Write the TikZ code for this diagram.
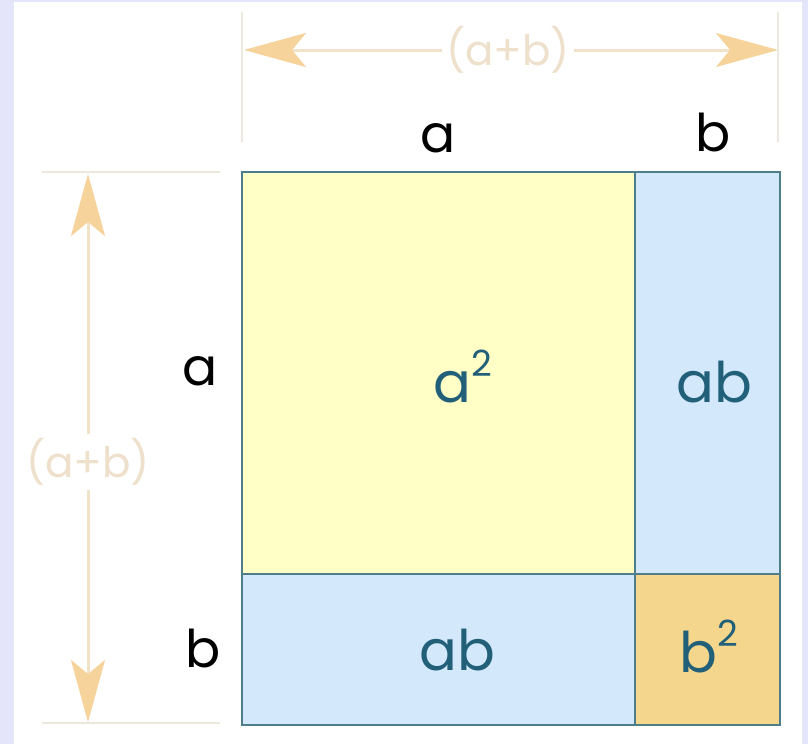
\documentclass[tikz,border=0pt]{standalone}
\usepackage{fontspec}
\setmainfont{Poppins}
\usetikzlibrary{arrows.meta}
\definecolor{lav}{HTML}{E4E4FA}
\definecolor{yel}{HTML}{FFFFC6}
\definecolor{lblue}{HTML}{D3E9FB}
\definecolor{gold}{HTML}{F4D68C}
\definecolor{edge}{HTML}{4E7E8A}
\definecolor{celltxt}{HTML}{22607A}
\definecolor{dimline}{HTML}{F2E2C8}
\definecolor{dimtip}{HTML}{F5D39A}
\definecolor{dimtxt}{HTML}{EEE0CA}
\definecolor{extl}{HTML}{EDE8DE}
\tikzset{
  cellbox/.style={draw=edge, line width=2.4pt},
  celllabel/.style={text=celltxt, font=\fontsize{56}{56}\selectfont, anchor=base, inner sep=0pt},
  sidelabel/.style={text=black, font=\fontsize{52}{52}\selectfont, anchor=base, inner sep=0pt},
  dimlabel/.style={text=dimtxt, font=\fontsize{42}{42}\selectfont, inner sep=4pt},
  extline/.style={draw=extl, line width=1.6pt},
  dimarrow/.style={draw=dimline, line width=3pt, -{Stealth[length=62pt,width=34pt,inset=14pt,color=dimtip]}},
}
\newcommand{\sqr}[1]{#1\raisebox{0.45em}{\fontsize{36}{36}\selectfont 2}}
\begin{document}
\begin{tikzpicture}[x=1pt,y=-1pt]
\useasboundingbox (0,0) rectangle (808,744);
\fill[lav] (0,0) rectangle (808,744);
\fill[white] (14,2) rectangle (802,744);
% cells
\fill[yel] (242,172) rectangle (635,574);
\fill[lblue] (635,172) rectangle (780,574);
\fill[lblue] (242,574) rectangle (635,725);
\fill[gold] (635,574) rectangle (780,725);
\draw[cellbox] (242,172) rectangle (780,725);
\draw[cellbox] (635,172) -- (635,725);
\draw[cellbox] (242,574) -- (780,574);
% extension lines
\draw[extline] (242,12) -- (242,142);
\draw[extline] (778,12) -- (778,142);
\draw[extline] (42,172) -- (220,172);
\draw[extline] (42,723) -- (220,723);
% dimension arrows
\coordinate (tl) at (244,50);
\coordinate (tr) at (778,50);
\node[dimlabel] (tlab) at (508,50) {(a+b)};
\draw[dimarrow] (tlab.west) -- (tl);
\draw[dimarrow] (tlab.east) -- (tr);
\coordinate (lt) at (88,174);
\coordinate (lb) at (88,722);
\node[dimlabel] (llab) at (88,462) {(a+b)};
\draw[dimarrow] (llab.north) -- (lt);
\draw[dimarrow] (llab.south) -- (lb);
% side labels
\node[sidelabel] (ta) at (438,152) {a};
\node[sidelabel] (tb) at (713,151) {b};
\node[sidelabel] (la) at (200,385) {a};
\node[sidelabel] (lb2) at (203,667) {b};
% cell labels
\node[celllabel] (c1) at (463,402) {\sqr{a}};
\node[celllabel] (c2) at (714,402) {ab};
\node[celllabel] (c3) at (457,670) {ab};
\node[celllabel] (c4) at (709,672) {\sqr{b}};
\end{tikzpicture}
\end{document}
